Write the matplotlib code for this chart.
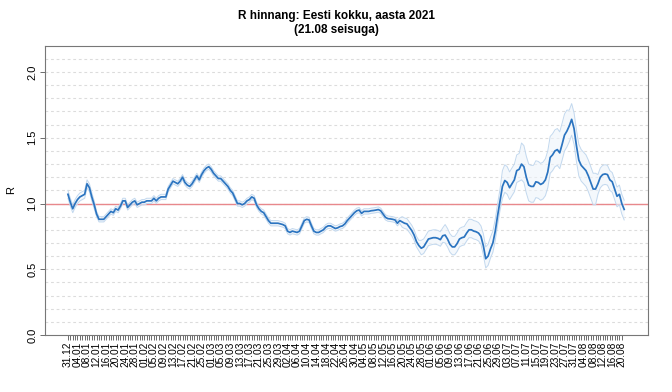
import numpy as np
import matplotlib
matplotlib.use("Agg")
import matplotlib.pyplot as plt
import datetime as dt

plt.rcParams['font.family'] = ['Liberation Sans', 'DejaVu Sans']

# ---- data ----
start_date = dt.date(2020, 12, 31)

r_mean = [
    1.07, 1.01, 0.96, 1.00, 1.03, 1.05, 1.06, 1.07, 1.15, 1.12,
    1.05, 0.99, 0.92, 0.88, 0.88, 0.88, 0.90, 0.92, 0.94, 0.93,
    0.96, 0.95, 0.98, 1.02, 1.02, 0.97, 0.99, 1.01, 1.02, 0.99,
    1.00, 1.01, 1.01, 1.02, 1.02, 1.02, 1.04, 1.02, 1.04, 1.05,
    1.05, 1.05, 1.11, 1.14, 1.17, 1.16, 1.15, 1.17, 1.20, 1.16,
    1.14, 1.13, 1.15, 1.18, 1.21, 1.18, 1.22, 1.25, 1.27, 1.28,
    1.26, 1.23, 1.21, 1.19, 1.19, 1.17, 1.15, 1.13, 1.10, 1.08,
    1.04, 1.00, 1.00, 0.99, 1.00, 1.02, 1.03, 1.05, 1.04, 0.99,
    0.96, 0.94, 0.93, 0.90, 0.87, 0.85, 0.85, 0.85, 0.85, 0.845,
    0.84, 0.83, 0.79, 0.78, 0.79, 0.785, 0.78, 0.79, 0.83, 0.87,
    0.88, 0.875, 0.83, 0.79, 0.78, 0.78, 0.79, 0.80, 0.82, 0.83,
    0.83, 0.82, 0.81, 0.815, 0.825, 0.83, 0.845, 0.87, 0.89, 0.91,
    0.93, 0.945, 0.95, 0.925, 0.94, 0.94, 0.94, 0.945, 0.947, 0.95,
    0.954, 0.945, 0.92, 0.895, 0.885, 0.883, 0.88, 0.875, 0.85, 0.87,
    0.86, 0.85, 0.845, 0.82, 0.795, 0.76, 0.71, 0.68, 0.66, 0.67,
    0.70, 0.73, 0.735, 0.74, 0.74, 0.735, 0.725, 0.755, 0.76, 0.73,
    0.69, 0.67, 0.67, 0.695, 0.73, 0.74, 0.745, 0.775, 0.80, 0.80,
    0.79, 0.785, 0.775, 0.75, 0.68, 0.58, 0.60, 0.655, 0.70, 0.79,
    0.91, 1.02, 1.13, 1.175, 1.16, 1.12, 1.15, 1.18, 1.25, 1.26,
    1.30, 1.28, 1.20, 1.14, 1.13, 1.13, 1.165, 1.16, 1.145, 1.155,
    1.18, 1.24, 1.35, 1.37, 1.40, 1.41, 1.385, 1.45, 1.52, 1.55,
    1.59, 1.64, 1.57, 1.44, 1.33, 1.29, 1.27, 1.25, 1.21, 1.16,
    1.11, 1.11, 1.15, 1.20, 1.22, 1.225, 1.22, 1.18, 1.165, 1.11,
    1.055, 1.07, 1.00, 0.955,
]

# distance of the interval bounds from the estimate, as (value, number of days)
ci_low_runs = [(0.03, 12), (0.02, 128), (0.04, 8), (0.05, 10), (0.06, 16),
               (0.07, 8), (0.09, 8), (0.12, 20), (0.12, 12), (0.08, 12)]
ci_high_runs = [(0.03, 12), (0.02, 128), (0.04, 8), (0.06, 10), (0.08, 16),
                (0.09, 8), (0.12, 8), (0.16, 20), (0.12, 12), (0.07, 12)]

ylabel = "R"
title = "R hinnang: Eesti kokku, aasta 2021\n(21.08 seisuga)"

# ---- build ----
r = np.array(r_mean)
n = len(r)
days = np.arange(n)
lo_w = np.concatenate([[v] * k for v, k in ci_low_runs])[:n]
hi_w = np.concatenate([[v] * k for v, k in ci_high_runs])[:n]
lower = r - lo_w
upper = r + hi_w

last_tick = 232
tick_days = np.arange(0, last_tick + 1)
tick_labels = [(start_date + dt.timedelta(days=int(d))).strftime("%d.%m") if d % 4 == 0 else ""
               for d in tick_days]

fig = plt.figure(figsize=(6.72, 3.92), dpi=100)
ax = fig.add_axes([0.067, 0.1454, 0.897, 0.738])

for g in np.arange(0.1, 2.15, 0.1):
    ax.axhline(g, color="#dcdcdc", lw=0.8, ls=(0, (2.5, 2.5)), zorder=1)
ax.axhline(1.0, color="#e8888c", lw=1.0, zorder=2)

ax.fill_between(days, lower, upper, color="#eef4fb", alpha=0.6, lw=0, zorder=2)
ax.plot(days, lower, color="#c2d8ee", lw=0.7, zorder=3)
ax.plot(days, upper, color="#c2d8ee", lw=0.7, zorder=3)
ax.plot(days, r, color="#2b74c0", lw=1.25, zorder=4)

ax.set_xlim(-9.6, 242.9)
ax.set_ylim(0, 2.2)
ax.set_yticks([0.0, 0.5, 1.0, 1.5, 2.0])
ax.set_yticklabels(["0.0", "0.5", "1.0", "1.5", "2.0"], rotation=90, va="center", fontsize=8)
ax.set_xticks(tick_days)
ax.set_xticklabels(tick_labels, rotation=90, fontsize=7.3)
ax.tick_params(axis="x", length=3.5, width=0.6, color="#555555", pad=1.5)
ax.tick_params(axis="y", length=3.5, width=0.6, color="#555555", pad=2)
for s in ax.spines.values():
    s.set_color("#777777")
    s.set_linewidth(0.8)
ax.set_ylabel(ylabel, fontsize=8, labelpad=8)
fig.suptitle(title, fontsize=8.5, fontweight="bold", y=0.975, linespacing=1.25)

fig.savefig("out.png", dpi=100)
